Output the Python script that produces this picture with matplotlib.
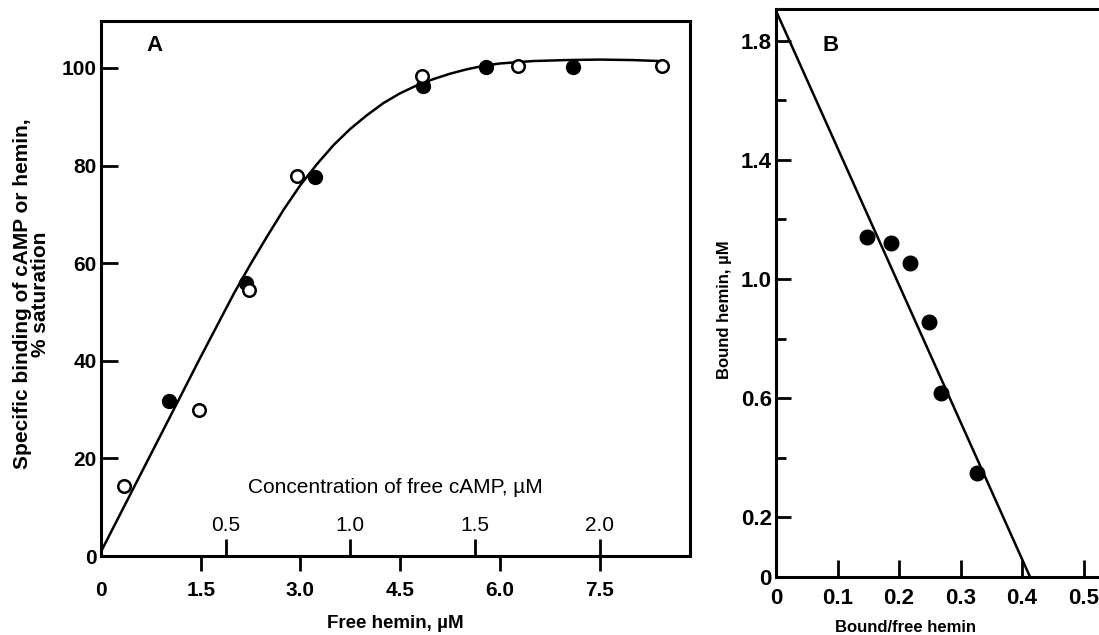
import matplotlib
matplotlib.use('Agg')
import matplotlib.pyplot as plt

plt.rcParams['font.family'] = ['Liberation Sans', 'DejaVu Sans']

# ---- Panel A data (x in free hemin, uM; y in % saturation) ----
curve_x = [0, 0.5, 1.0, 1.5, 2.0, 2.25, 2.5, 2.75, 3.0, 3.25, 3.5, 3.75, 4.0, 4.25,
           4.5, 4.75, 5.0, 5.25, 5.5, 5.75, 6.0, 6.5, 7.0, 7.5, 8.0, 8.4]
curve_y = [0.9, 14.2, 27.5, 40.8, 53.8, 59.8, 65.5, 71.0, 76.0, 80.3, 84.2, 87.5, 90.3, 92.8,
           94.8, 96.4, 97.7, 98.8, 99.7, 100.4, 100.9, 101.4, 101.6, 101.7, 101.6, 101.4]

hemin_x = [1.02, 2.18, 3.22, 4.84, 5.79, 7.10]
hemin_y = [31.8, 55.9, 77.7, 96.3, 100.2, 100.2]

camp_x = [0.35, 1.47, 2.23, 2.95, 4.83, 6.27, 8.44]
camp_y = [14.3, 29.9, 54.5, 77.9, 98.4, 100.4, 100.4]

hemin_ticks = [0, 1.5, 3.0, 4.5, 6.0, 7.5]
hemin_labels = ['0', '1.5', '3.0', '4.5', '6.0', '7.5']
camp_ticks = [0.5, 1.0, 1.5, 2.0]
camp_labels = ['0.5', '1.0', '1.5', '2.0']
camp_per_hemin = 2.0 / 7.5          # 2.0 uM cAMP sits at 7.5 uM hemin
a_yticks = [0, 20, 40, 60, 80, 100]

# ---- Panel B data (Scatchard) ----
b_x = [0.148, 0.187, 0.218, 0.249, 0.268, 0.327]
b_y = [1.141, 1.121, 1.054, 0.856, 0.617, 0.349]
fit_y0 = 1.90      # intercept on bound axis
fit_x0 = 0.413     # intercept on bound/free axis

b_xticks = [0, 0.1, 0.2, 0.3, 0.4, 0.5]
b_xlabels = ['0', '0.1', '0.2', '0.3', '0.4', '0.5']
b_yticks = [0, 0.2, 0.6, 1.0, 1.4, 1.8]
b_ylabels = ['0', '0.2', '0.6', '1.0', '1.4', '1.8']
b_yminor = [0.4, 0.8, 1.2, 1.6]

fig = plt.figure(figsize=(10.99, 6.35), dpi=100)

# ================= Panel A =================
axA = fig.add_axes([0.0919, 0.1244, 0.5359, 0.8425])
axA.plot(curve_x, curve_y, color='black', lw=1.8, zorder=2)
axA.plot(hemin_x, hemin_y, 'o', ms=10, mfc='black', mec='black', zorder=3)
axA.plot(camp_x, camp_y, 'o', ms=9, mfc='white', mec='black', mew=1.8, zorder=4)
axA.set_xlim(0, 8.86)
axA.set_ylim(0, 109.6)
for s in axA.spines.values():
    s.set_linewidth(2.2)

axA.set_xticks(hemin_ticks)
axA.set_xticklabels(hemin_labels, fontsize=15, fontweight='bold')
axA.tick_params(axis='x', direction='out', length=11, width=2, pad=7)
axA.xaxis.get_major_ticks()[0].tick1line.set_visible(False)
axA.set_yticks(a_yticks)
axA.set_yticklabels([str(v) for v in a_yticks], fontsize=15, fontweight='bold')
axA.tick_params(axis='y', direction='in', length=12, width=2, pad=3)

axA.set_xlabel('Free hemin, µM', fontsize=13.5, fontweight='bold', labelpad=11)
axA.text(-0.118, 0.49, 'Specific binding of cAMP or hemin,\n% saturation',
         transform=axA.transAxes, rotation=90, ha='center', va='center',
         fontsize=15, fontweight='bold', linespacing=0.95)
axA.text(0.09, 0.955, 'A', transform=axA.transAxes, fontsize=16,
         fontweight='bold', ha='center', va='center')

# inner cAMP scale
sec = axA.secondary_xaxis(0, functions=(lambda h: h * camp_per_hemin,
                                        lambda c: c / camp_per_hemin))
sec.set_alignment('top')
sec.spines['top'].set_visible(False)
sec.set_xticks(camp_ticks)
sec.set_xticklabels(camp_labels, fontsize=15)
sec.tick_params(axis='x', direction='out', length=12, width=2, pad=3)
sec.set_xlabel('Concentration of free cAMP, µM', fontsize=15, labelpad=17)

# ================= Panel B =================
axB = fig.add_axes([0.7061, 0.0913, 0.2939, 0.8945])
axB.plot([0, fit_x0], [fit_y0, 0], color='black', lw=1.8, zorder=2)
axB.plot(b_x, b_y, 'o', ms=10.5, mfc='black', mec='black', zorder=3)
axB.set_xlim(0, 0.525)
axB.set_ylim(0, 1.906)
axB.spines['right'].set_visible(False)
for s in axB.spines.values():
    s.set_linewidth(2.2)

axB.set_xticks(b_xticks)
axB.set_xticklabels(b_xlabels, fontsize=16, fontweight='bold')
axB.tick_params(axis='x', direction='in', length=12, width=2, pad=8)
axB.set_yticks(b_yticks)
axB.set_yticklabels(b_ylabels, fontsize=16, fontweight='bold')
axB.set_yticks(b_yminor, minor=True)
axB.tick_params(axis='y', which='major', direction='in', length=11, width=2, pad=3)
axB.tick_params(axis='y', which='minor', direction='in', length=7, width=2)

axB.set_xlabel('Bound/free hemin', fontsize=12, fontweight='bold')
axB.xaxis.set_label_coords(0.40, -0.075)
axB.set_ylabel('Bound hemin, µM', fontsize=12, fontweight='bold')
axB.yaxis.set_label_coords(-0.135, 0.47)
axB.text(0.17, 0.935, 'B', transform=axB.transAxes, fontsize=16,
         fontweight='bold', ha='center', va='center')

fig.savefig('out.png', dpi=100, facecolor='white')
